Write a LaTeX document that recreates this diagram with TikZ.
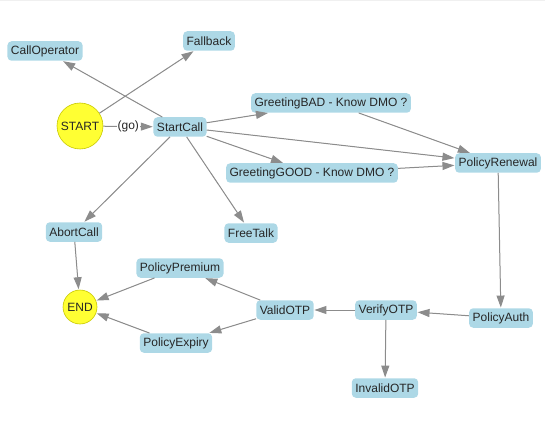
\documentclass[tikz,border=0pt]{standalone}
\usepackage{fontspec}
\setmainfont{Liberation Sans}
\usetikzlibrary{arrows.meta}
\definecolor{boxblue}{HTML}{ADD8E6}
\definecolor{startyellow}{HTML}{FFFF33}
\definecolor{circleedge}{HTML}{C8C800}
\definecolor{edgegray}{HTML}{8C8C8C}
\definecolor{toprule}{HTML}{F0F0F0}
\tikzset{
  stbox/.style={fill=boxblue, rounded corners=4pt, minimum height=19.5pt, inner xsep=3.5pt, inner ysep=2pt, font=\fontsize{12}{14}\selectfont, text=black!85},
  stcirc/.style={circle, fill=startyellow, draw=circleedge, line width=0.6pt, inner sep=0pt, font=\fontsize{12}{14}\selectfont, text=black!85},
  conn/.style={draw=edgegray, line width=1pt, -{Triangle[length=12pt,width=8pt]}, fill=edgegray, shorten >=0.5pt},
  elabel/.style={fill=white, inner sep=1pt, font=\fontsize{12}{14}\selectfont, text=black!85}
}
\begin{document}
\begin{tikzpicture}[x=1pt,y=-1pt]
\useasboundingbox (0,0) rectangle (545,430);
\fill[toprule] (0,0) rectangle (545,1.2);

\node[stbox] (callop) at (45,51) {CallOperator};
\node[stbox] (fallback) at (209,41) {Fallback};
\node[stcirc, minimum size=46pt] (start) at (80,126) {START};
\node[stbox] (startcall) at (180,127) {StartCall};
\node[stbox] (gbad) at (331,103) {GreetingBAD - Know DMO ?};
\node[stbox] (ggood) at (312,173) {GreetingGOOD - Know DMO ?};
\node[stbox] (renewal) at (498,163) {PolicyRenewal};
\node[stbox] (abort) at (74,232) {AbortCall};
\node[stbox] (freetalk) at (251,233) {FreeTalk};
\node[stbox] (premium) at (180,268) {PolicyPremium};
\node[stcirc, minimum size=34pt] (end) at (80,307) {END};
\node[stbox] (valid) at (285,310) {ValidOTP};
\node[stbox] (verify) at (386,310) {VerifyOTP};
\node[stbox] (auth) at (501,318) {PolicyAuth};
\node[stbox] (expiry) at (176,343) {PolicyExpiry};
\node[stbox] (invalid) at (385,388) {InvalidOTP};

\path[conn] (start) -- node[elabel, pos=0.5] {(go)} (startcall);
\path[conn] (start) -- (fallback);
\path[conn] (startcall) -- (callop);
\path[conn] (startcall) -- (gbad);
\path[conn] (startcall) -- (renewal);
\path[conn] (startcall) -- (ggood);
\path[conn] (startcall) -- (abort);
\path[conn] (startcall) -- (freetalk);
\path[conn] (gbad) -- (renewal);
\path[conn] (ggood) -- (renewal);
\path[conn] (renewal) -- (auth);
\path[conn] (auth) -- (verify);
\path[conn] (verify) -- (valid);
\path[conn] (verify) -- (invalid);
\path[conn] (valid) -- (premium);
\path[conn] (valid) -- (expiry);
\path[conn] (premium) -- (end);
\path[conn] (expiry) -- (end);
\path[conn] (abort) -- (end);
\end{tikzpicture}
\end{document}
